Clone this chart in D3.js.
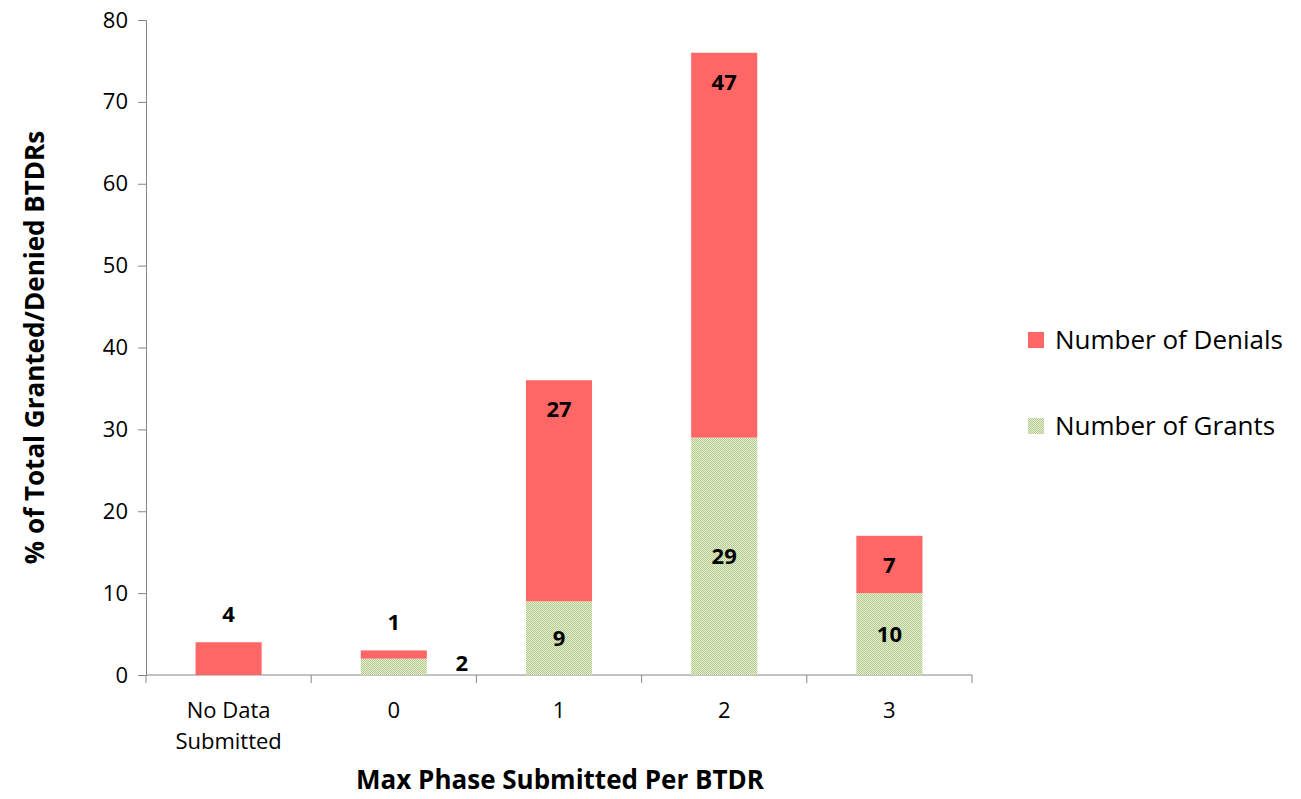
<!DOCTYPE html>
<html>
<head>
<meta charset="utf-8">
<script src="https://cdn.jsdelivr.net/npm/d3@7"></script>
<style>
  body { margin: 0; background: #fff; }
  svg text { font-family: "Open Sans", "DejaVu Sans", sans-serif; fill: #000; }
</style>
</head>
<body>
<div id="chart"></div>
<script>
// categories and values
var categories = ["No Data Submitted", "0", "1", "2", "3"];
var denials = [4, 1, 27, 47, 7];
var grants = [0, 2, 9, 29, 10];
var yTicks = [0, 10, 20, 30, 40, 50, 60, 70, 80];

var margin = {top: 20, right: 329, bottom: 124, left: 146},
    width = 1301 - margin.left - margin.right,
    height = 799 - margin.top - margin.bottom;

var svg = d3.select("#chart")
  .append("svg")
    .attr("width", 1301)
    .attr("height", 799);

// green checker pattern for grants
var defs = svg.append("defs");
var pat = defs.append("pattern")
    .attr("id", "grantPat")
    .attr("width", 2).attr("height", 2)
    .attr("patternUnits", "userSpaceOnUse");
pat.append("rect").attr("width", 2).attr("height", 2).attr("fill", "#e6eed5");
pat.append("rect").attr("width", 1).attr("height", 1).attr("fill", "#b3cb8a");
pat.append("rect").attr("x", 1).attr("y", 1).attr("width", 1).attr("height", 1).attr("fill", "#b3cb8a");

var g = svg.append("g")
    .attr("transform", "translate(" + margin.left + "," + margin.top + ")");

var x = d3.scaleBand()
    .domain(categories)
    .range([0, width])
    .paddingInner(0.6)
    .paddingOuter(0.3);

var y = d3.scaleLinear()
    .domain([0, 80])
    .range([height, 0]);

// y axis
var yAxis = g.append("g")
    .call(d3.axisLeft(y).tickValues(yTicks).tickSize(8).tickPadding(10));
yAxis.select(".domain").attr("stroke", "#868686");
yAxis.selectAll(".tick line").attr("stroke", "#868686");
yAxis.selectAll(".tick text").style("font-size", "22px");

// x axis (line plus ticks at category boundaries)
var gap = (x.step() - x.bandwidth()) / 2;
var xAx = g.append("g").attr("transform", "translate(0," + height + ")");
xAx.append("line")
    .attr("x1", 0).attr("x2", width)
    .attr("stroke", "#868686");
var bounds = categories.map(function(c) { return x(c) - gap; }).concat([width]);
xAx.selectAll(".xt").data(bounds).enter().append("line")
    .attr("x1", function(d) { return d; })
    .attr("x2", function(d) { return d; })
    .attr("y1", 0).attr("y2", 8)
    .attr("stroke", "#868686");

// category labels
xAx.selectAll(".cat").data(categories).enter().append("text")
    .attr("text-anchor", "middle")
    .attr("x", function(d) { return x(d) + x.bandwidth() / 2; })
    .attr("y", 43)
    .style("font-size", "22px")
    .each(function(d) {
      var t = d3.select(this);
      if (d === "No Data Submitted") {
        t.append("tspan").attr("x", t.attr("x")).text("No Data");
        t.append("tspan").attr("x", t.attr("x")).attr("dy", 31).text("Submitted");
      } else {
        t.text(d);
      }
    });

// grant bars
g.selectAll(".grant").data(categories).enter().append("rect")
    .attr("x", function(d) { return x(d); })
    .attr("width", x.bandwidth())
    .attr("y", function(d, i) { return y(grants[i]); })
    .attr("height", function(d, i) { return height - y(grants[i]); })
    .attr("fill", "url(#grantPat)");

// denial bars stacked on top
g.selectAll(".denial").data(categories).enter().append("rect")
    .attr("x", function(d) { return x(d); })
    .attr("width", x.bandwidth())
    .attr("y", function(d, i) { return y(grants[i] + denials[i]); })
    .attr("height", function(d, i) { return y(grants[i]) - y(grants[i] + denials[i]); })
    .attr("fill", "#ff6666");

// denial labels: inside near the top, or above when the segment is short
g.selectAll(".dlab").data(categories).enter().append("text")
    .attr("text-anchor", "middle")
    .attr("x", function(d) { return x(d) + x.bandwidth() / 2; })
    .attr("y", function(d, i) {
      var top = y(grants[i] + denials[i]);
      return denials[i] > 5 ? top + 37 : top - 20;
    })
    .style("font-size", "22px").style("font-weight", "bold")
    .text(function(d, i) { return denials[i]; });

// grant labels: centred, or beside the bar when too short
g.selectAll(".glab").data(categories.filter(function(d, i) { return grants[i] > 0; }))
  .enter().append("text")
    .attr("text-anchor", "middle")
    .attr("x", function(d) {
      var i = categories.indexOf(d);
      return grants[i] > 5 ? x(d) + x.bandwidth() / 2 : x(d) + x.bandwidth() + 35;
    })
    .attr("y", function(d) {
      var i = categories.indexOf(d);
      return grants[i] > 5 ? (y(grants[i]) + height) / 2 + 8 : height - 4;
    })
    .style("font-size", "22px").style("font-weight", "bold")
    .text(function(d) { return grants[categories.indexOf(d)]; });

// axis titles
svg.append("text")
    .attr("transform", "translate(44," + (margin.top + height / 2) + ") rotate(-90)")
    .attr("text-anchor", "middle")
    .style("font-size", "26px").style("font-weight", "bold")
    .text("% of Total Granted/Denied BTDRs");

svg.append("text")
    .attr("x", 560).attr("y", 789)
    .attr("text-anchor", "middle")
    .style("font-size", "26px").style("font-weight", "bold")
    .text("Max Phase Submitted Per BTDR");

// legend
var legend = [
  {name: "Number of Denials", fill: "#ff6666"},
  {name: "Number of Grants", fill: "url(#grantPat)"}
];
var lg = svg.selectAll(".lg").data(legend).enter().append("g")
    .attr("transform", function(d, i) { return "translate(1028," + (332 + i * 86) + ")"; });
lg.append("rect").attr("width", 16).attr("height", 16)
    .attr("fill", function(d) { return d.fill; });
lg.append("text").attr("x", 27).attr("y", 17)
    .style("font-size", "26px")
    .text(function(d) { return d.name; });
</script>
</body>
</html>
